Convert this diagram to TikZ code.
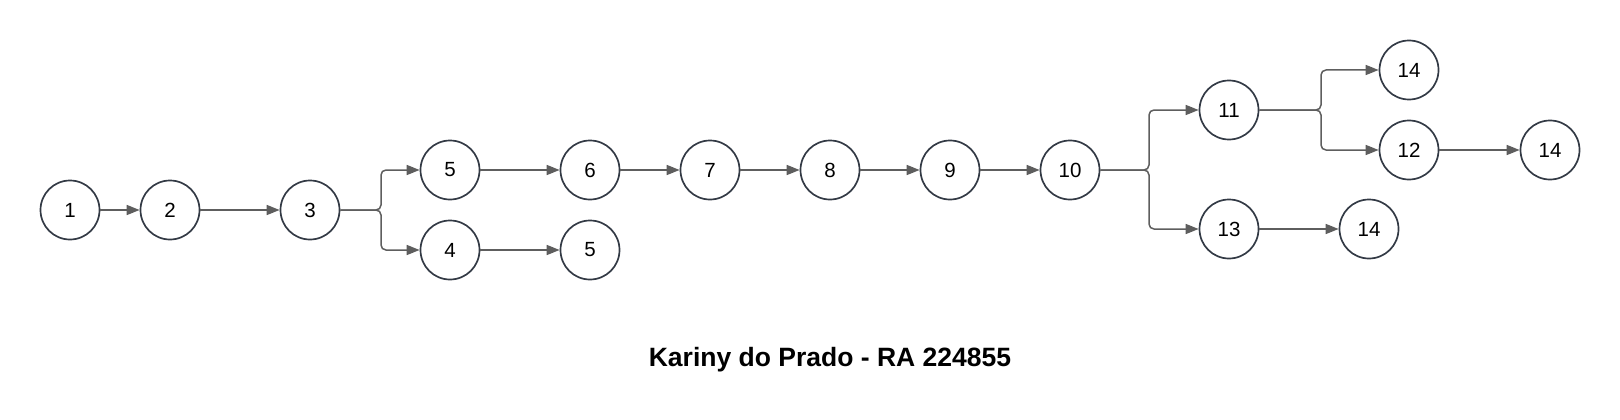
\documentclass[tikz,border=0pt]{standalone}
\usepackage{fontspec}
\setmainfont{Liberation Sans}
\usetikzlibrary{arrows.meta}
\definecolor{circ}{HTML}{333A45}
\definecolor{arrc}{HTML}{5E5E5E}
\begin{document}
\begin{tikzpicture}[x=1pt,y=-1pt,
  state/.style={circle,draw=circ,line width=1.7pt,minimum size=59pt,inner sep=0pt,font=\fontsize{20.5}{24}\selectfont},
  arr/.style={draw=arrc,line width=1.5pt,rounded corners=5pt,-{Triangle[length=13pt,width=10pt]}}]
\useasboundingbox (0,0) rectangle (1620,420);
\node[state] (n1) at (70,210) {1};
\node[state] (n2) at (170,210) {2};
\node[state] (n3) at (310,210) {3};
\node[state] (n5) at (450,170) {5};
\node[state] (n4) at (450,250) {4};
\node[state] (n5b) at (590,250) {5};
\node[state] (n6) at (590,170) {6};
\node[state] (n7) at (710,170) {7};
\node[state] (n8) at (830,170) {8};
\node[state] (n9) at (950,170) {9};
\node[state] (n10) at (1070,170) {10};
\node[state] (n11) at (1229,110) {11};
\node[state] (n14a) at (1409,70) {14};
\node[state] (n12) at (1409,150) {12};
\node[state] (n14b) at (1550,150) {14};
\node[state] (n13) at (1229,229) {13};
\node[state] (n14c) at (1369,229) {14};
\coordinate (j1) at (381,210);
\coordinate (j2) at (1149,170);
\coordinate (j3) at (1321,110);
\node[font=\bfseries\fontsize{26.5}{30}\selectfont] (title) at (830,360) {Kariny do Prado - RA 224855};
\draw[arr] (n1) -- (n2);
\draw[arr] (n2) -- (n3);
\draw[arr] (n3.east) -- (j1) |- (n5.west);
\draw[arr] (n3.east) -- (j1) |- (n4.west);
\draw[arr] (n4) -- (n5b);
\draw[arr] (n5) -- (n6);
\draw[arr] (n6) -- (n7);
\draw[arr] (n7) -- (n8);
\draw[arr] (n8) -- (n9);
\draw[arr] (n9) -- (n10);
\draw[arr] (n10.east) -- (j2) |- (n11.west);
\draw[arr] (n10.east) -- (j2) |- (n13.west);
\draw[arr] (n11.east) -- (j3) |- (n14a.west);
\draw[arr] (n11.east) -- (j3) |- (n12.west);
\draw[arr] (n12) -- (n14b);
\draw[arr] (n13) -- (n14c);
\end{tikzpicture}
\end{document}
